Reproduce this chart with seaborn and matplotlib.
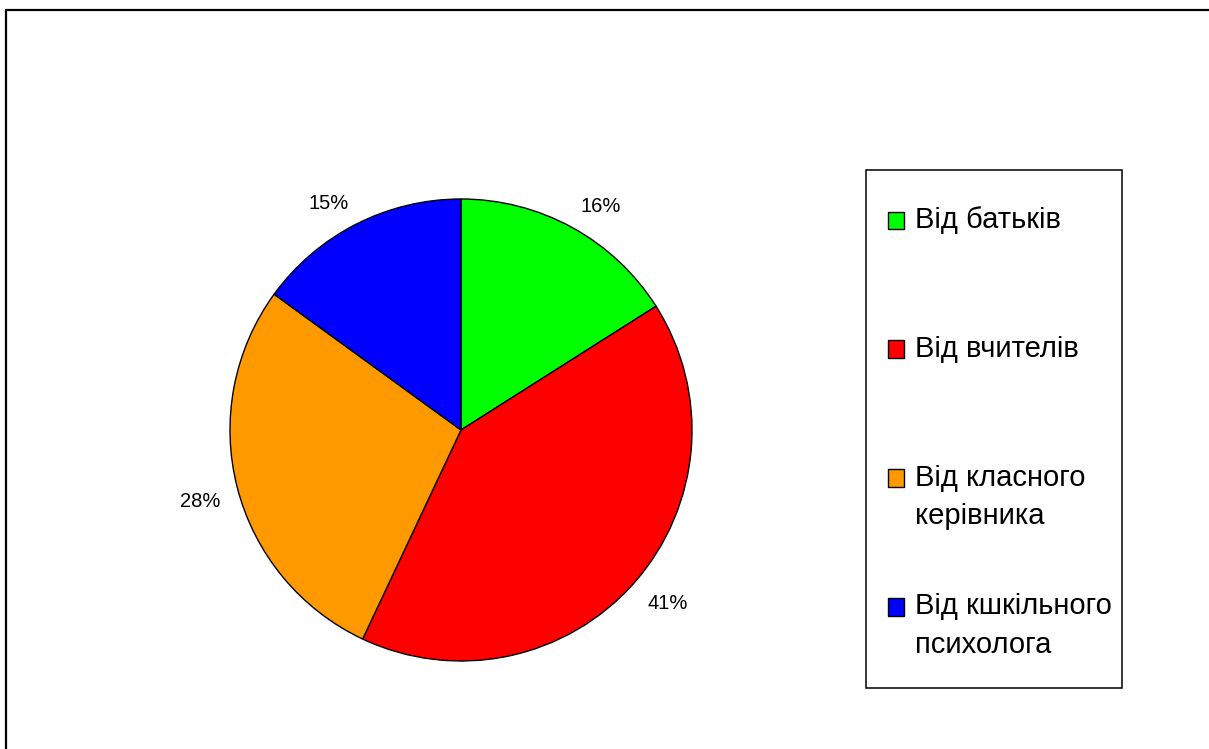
import numpy as np
import seaborn as sns
import matplotlib.pyplot as plt
from matplotlib.patches import Rectangle, Patch
from matplotlib.lines import Line2D
from matplotlib.legend_handler import HandlerPatch

labels = ['Від батьків', 'Від вчителів', 'Від класного\nкерівника', 'Від кшкільного\nпсихолога']
shares = [16, 41, 28, 15]
colors = ['#00FF00', '#FF0000', '#FF9900', '#0000FF']

sns.set_theme(style="white")
plt.rcParams['font.family'] = ['Liberation Sans', 'DejaVu Sans']
plt.rcParams['text.color'] = 'black'

W, H = 1209, 749
fig = plt.figure(figsize=(W / 100, H / 100), dpi=100)

# pie axes: centre (461, 430), radius 231 px
cx, cy, r = 461, 430, 231
ax = fig.add_axes([(cx - r) / W, (H - cy - r) / H, 2 * r / W, 2 * r / H])
wedges, texts, autotexts = ax.pie(
    shares, colors=colors, startangle=90, counterclock=False,
    autopct='%1.0f%%', pctdistance=1.075,
    wedgeprops=dict(edgecolor='black', linewidth=1.0),
    textprops=dict(fontsize=14.5, color='black'))
# anchor the labels outside the slice edge, like Excel's "outside end"
for w, t in zip(wedges, autotexts):
    ang = np.deg2rad((w.theta1 + w.theta2) / 2)
    t.set_ha('left' if np.cos(ang) > 0 else 'right')
    t.set_va('baseline' if np.sin(ang) > 0 else 'top')
ax.set_xlim(-1, 1)
ax.set_ylim(-1, 1)
ax.set_aspect('auto')
ax.axis('off')

# outer frame (only top and left edges are visible in the crop)
fig.add_artist(Line2D([6 / W, 1.0], [1 - 10 / H, 1 - 10 / H], color='black', lw=1.6,
                      transform=fig.transFigure))
fig.add_artist(Line2D([6 / W, 6 / W], [0.0, 1 - 10 / H], color='black', lw=1.6,
                      transform=fig.transFigure))

# legend box
lx0, ly0, lx1, ly1 = 866, 170, 1122, 688
fig.add_artist(Rectangle((lx0 / W, 1 - ly1 / H), (lx1 - lx0) / W, (ly1 - ly0) / H,
                         facecolor='white', edgecolor='black', lw=1.1,
                         transform=fig.transFigure))


# square marker next to the first line of each (two-line) entry
def top_square(legend, orig_handle, xdescent, ydescent, width, height, fontsize):
    return Rectangle((-xdescent, -ydescent + 14), width, height)


# every entry gets the same height, like Excel's evenly spaced legend
padded = [l if '\n' in l else l + '\n ' for l in labels]
handles = [Patch(facecolor=c, edgecolor='black', linewidth=1.0) for c in colors]
leg = fig.legend(handles, padded, loc='upper left',
                 bbox_to_anchor=(888 / W, 1 - 206 / H), frameon=False,
                 fontsize=21, handlelength=0.55, handleheight=0.55,
                 handletextpad=0.38, labelspacing=2.15, borderpad=0,
                 borderaxespad=0,
                 handler_map={Patch: HandlerPatch(patch_func=top_square)})
for t in leg.get_texts():
    t.set_linespacing(1.46)
    t.set_color('black')

fig.savefig('out.png', dpi=100)
